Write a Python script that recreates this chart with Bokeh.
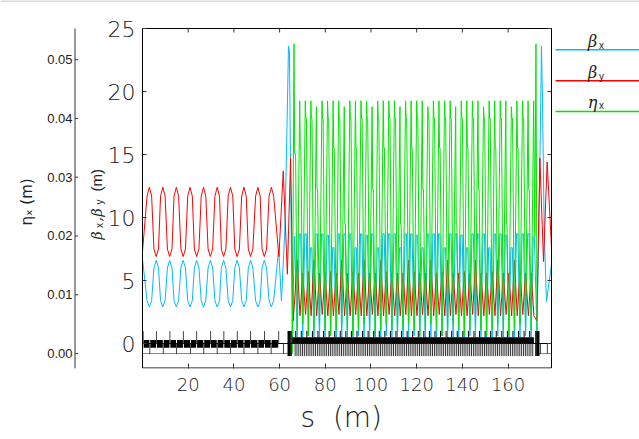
import math
from bokeh.plotting import figure
from bokeh.models import Range1d, LinearAxis, FixedTicker, Title
from bokeh.core.properties import value
from bokeh.embed import file_html
from bokeh.resources import INLINE

# ---------------- values ----------------
s_limits = [0.0, 179.0]
beta_limits = [-1.984, 25.0]
eta_limits = [-0.00255, 0.0553]
s_ticks = [20, 40, 60, 80, 100, 120, 140, 160]
beta_ticks = [0, 5, 10, 15, 20, 25]
beta_tick_labels = ["0", "5", "10", "15", "20", "25"]
eta_ticks = [0.0, 0.01, 0.02, 0.03, 0.04, 0.05]
eta_tick_labels = ["0.00", "0.01", "0.02", "0.03", "0.04", "0.05"]

# FODO section: extrema of the beta functions and their shoulders (1 m either side)
fodo_ext_s = [3.0, 6.0, 8.9, 11.9, 14.8, 17.8, 20.8, 23.7, 26.7, 29.7, 32.7, 35.5,
              38.5, 41.4, 44.4, 47.3, 50.5, 53.3, 56.4]
by_ext = [12.4, 6.9, 12.4, 6.9, 12.4, 6.9, 12.4, 6.9, 12.4, 6.9, 12.4, 6.9,
          12.4, 6.9, 12.4, 6.9, 12.4, 6.9, 12.4]
by_shoulder = [11.7, 7.5, 11.7, 7.5, 11.7, 7.5, 11.7, 7.5, 11.7, 7.5, 11.7, 7.5,
               11.7, 7.5, 11.7, 7.5, 11.7, 7.5, 11.7]
bx_ext = [2.9, 6.6, 2.9, 6.6, 2.9, 6.6, 2.9, 6.6, 2.9, 6.6, 2.9, 6.6,
          2.9, 6.6, 2.9, 6.6, 2.9, 6.6, 2.9]
bx_shoulder = [3.4, 6.0, 3.4, 6.0, 3.4, 6.0, 3.4, 6.0, 3.4, 6.0, 3.4, 6.0,
               3.4, 6.0, 3.4, 6.0, 3.4, 6.0, 3.4]
shoulder_ds = 1.0
bx_start, by_start = 6.7, 7.3

# entrance matching
bx_s_match = [59.6, 60.8, 62.3, 63.2, 63.9, 64.3, 65.5, 66.6]
bx_match = [7.5, 3.4, 9.0, 16.9, 23.6, 23.2, 1.0, 8.5]
by_s_match = [59.7, 61.6, 63.4, 64.8, 66.0]
by_match = [6.9, 13.7, 5.5, 14.7, 1.8]
eta_s_in = [0.0, 65.6, 66.3, 66.6, 67.0]
eta_in = [0.0, 0.0, 0.0527, 0.034, 0.034]

# dense arc: cell boundaries (m)
cell_s = [67.70, 70.14, 72.58, 75.01, 77.45, 79.89, 82.33, 84.77, 87.20, 89.64, 92.08,
          94.52, 96.96, 99.39, 101.83, 104.27, 106.71, 109.15, 111.58, 114.02, 116.46,
          118.90, 121.34, 123.77, 126.21, 128.65, 131.09, 133.53, 135.96, 138.40, 140.84,
          143.28, 145.72, 148.15, 150.59, 153.03, 155.47, 157.91, 160.34, 162.78, 165.22,
          167.66, 170.10]
bx_cell_min = [0.5, 0.4, 0.6, 0.5, 0.4, 0.5, 0.6,
               0.5, 0.4, 0.5, 0.5, 0.6, 0.4, 0.5,
               0.5, 0.4, 0.6, 0.5, 0.5, 0.4, 0.5,
               0.6, 0.5, 0.4, 0.5, 0.5, 0.6, 0.4,
               0.5, 0.5, 0.4, 0.6, 0.5, 0.5, 0.4,
               0.5, 0.6, 0.5, 0.4, 0.5, 0.5, 0.6,
               0.5]
bx_cell_max = [8.7, 8.7, 7.6, 8.7, 8.7, 8.6, 7.6,
               8.7, 8.7, 8.7, 7.6, 8.7, 8.6, 8.7,
               7.6, 8.7, 8.7, 8.7, 7.6, 8.7, 8.7,
               8.6, 7.6, 8.7, 8.7, 8.7, 7.6, 8.7,
               8.7, 8.6, 7.6, 8.7, 8.7, 8.7, 7.6,
               8.7, 8.7, 8.6, 7.6, 8.7, 8.7, 8.7]
by_cell_max = [6.6, 5.6, 5.7, 6.6, 5.6, 5.6, 5.7,
               5.6, 6.6, 5.6, 5.7, 5.6, 6.6, 5.6,
               5.6, 6.6, 5.7, 5.6, 5.6, 5.6, 6.6,
               5.7, 5.6, 5.6, 6.6, 5.6, 5.7, 6.6,
               5.6, 5.6, 5.7, 5.6, 6.6, 5.6, 5.6,
               5.7, 6.6, 5.6, 5.6, 6.6, 5.7, 5.6,
               5.6]
by_cell_min = [2.2, 2.3, 2.2, 2.2, 2.3, 2.2, 2.2,
               2.3, 2.2, 2.2, 2.3, 2.2, 2.2, 2.3,
               2.2, 2.2, 2.3, 2.2, 2.2, 2.3, 2.2,
               2.2, 2.3, 2.2, 2.2, 2.3, 2.2, 2.2,
               2.3, 2.2, 2.2, 2.3, 2.2, 2.2, 2.3,
               2.2, 2.2, 2.3, 2.2, 2.2, 2.3, 2.2]
eta_cell_low = [0.004, 0.005, 0.003, 0.004, 0.005, 0.004, 0.003,
                0.004, 0.005, 0.004, 0.003, 0.004, 0.005, 0.004,
                0.003, 0.004, 0.005, 0.004, 0.003, 0.004, 0.005,
                0.004, 0.003, 0.004, 0.005, 0.004, 0.003, 0.004,
                0.005, 0.004, 0.003, 0.004, 0.005, 0.004, 0.003,
                0.004, 0.005, 0.004, 0.003, 0.004, 0.005, 0.004,
                0.004]
eta_cell_peak = [0.043, 0.043, 0.043, 0.042, 0.043, 0.043, 0.043,
                 0.043, 0.042, 0.043, 0.043, 0.043, 0.043, 0.042,
                 0.043, 0.043, 0.043, 0.043, 0.042, 0.043, 0.043,
                 0.043, 0.043, 0.042, 0.043, 0.043, 0.043, 0.043,
                 0.042, 0.043, 0.043, 0.043, 0.043, 0.042, 0.043,
                 0.043, 0.043, 0.043, 0.042, 0.043, 0.043, 0.043]
eta_cell_shoulder = [0.035, 0.040, 0.040, 0.028, 0.040, 0.040, 0.035,
                     0.040, 0.022, 0.040, 0.035, 0.040, 0.040, 0.028,
                     0.040, 0.035, 0.040, 0.040, 0.022, 0.040, 0.035,
                     0.040, 0.028, 0.040, 0.040, 0.035, 0.040, 0.040,
                     0.022, 0.040, 0.035, 0.040, 0.028, 0.040, 0.040,
                     0.035, 0.040, 0.022, 0.040, 0.035, 0.040, 0.028]
bx_top_ds = [0.9, 1.5]
by_low_ds = [1.22]
eta_ds = [1.1, 1.35, 1.6]

# exit matching
bx_s_out = [171.0, 171.5, 172.6, 173.5, 174.2, 174.6, 175.0, 175.8, 176.8, 179.0]
bx_out = [8.5, 8.5, 1.0, 9.0, 18.0, 23.6, 20.0, 9.0, 3.3, 6.3]
by_s_out = [171.3, 172.6, 173.9, 175.5, 177.1, 179.0]
by_out = [2.2, 1.8, 14.7, 6.5, 14.4, 7.6]
eta_s_out = [171.2, 171.7, 172.2, 172.7, 179.0]
eta_out = [0.043, 0.020, 0.0527, 0.0, 0.0]

# magnet layout
qf_s = [0.3, 6.1, 12.0, 17.9, 23.7, 29.8, 35.6, 41.5, 47.3, 53.4, 59.6]
qd_s = [3.2, 9.1, 14.9, 21.0, 26.8, 32.7, 38.5, 44.4, 50.5, 56.3, 61.7, 174.2, 177.2]
bend_start = [0.5, 3.4, 6.3, 9.3, 12.2, 15.1, 18.1, 21.2, 23.9, 27.0, 30.0, 32.9, 35.8,
              38.7, 41.7, 44.6, 47.5, 50.7, 53.6, 56.5]
bend_end = [3.0, 5.9, 8.9, 11.8, 14.7, 17.7, 20.8, 23.5, 26.6, 29.6, 32.5, 35.4, 38.3,
            41.3, 44.2, 47.1, 50.3, 53.2, 56.1, 59.4]
long_q_s = [63.8, 64.4, 65.0, 172.2, 172.8, 173.4]
arc_band = [65.5, 171.3]
arc_up_ds = [-0.65]
arc_dn_ds = [-0.9, -0.1, 0.7]

# ---------------- assemble the curves ----------------
bx_s_all, bx_all = [0.0], [bx_start]
by_s_all, by_all = [0.0], [by_start]
for s, b1, b1s, b2, b2s in zip(fodo_ext_s, bx_ext, bx_shoulder, by_ext, by_shoulder):
    bx_s_all += [s - shoulder_ds, s, s + shoulder_ds]
    bx_all += [b1s, b1, b1s]
    by_s_all += [s - shoulder_ds, s, s + shoulder_ds]
    by_all += [b2s, b2, b2s]
bx_s_all += bx_s_match; bx_all += bx_match
by_s_all += by_s_match; by_all += by_match
eta_s_all, eta_all = list(eta_s_in), list(eta_in)
for k in range(len(cell_s) - 1):
    c = cell_s[k]
    bx_s_all += [c, c + bx_top_ds[0], c + bx_top_ds[1]]
    bx_all += [bx_cell_min[k], bx_cell_max[k], bx_cell_max[k]]
    by_s_all += [c, c + by_low_ds[0]]
    by_all += [by_cell_max[k], by_cell_min[k]]
    eta_s_all += [c, c + eta_ds[0], c + eta_ds[1], c + eta_ds[2]]
    eta_all += [eta_cell_low[k], eta_cell_peak[k], eta_cell_shoulder[k], eta_cell_shoulder[k]]
bx_s_all.append(cell_s[-1]); bx_all.append(bx_cell_min[-1])
by_s_all.append(cell_s[-1]); by_all.append(by_cell_max[-1])
eta_s_all.append(cell_s[-1]); eta_all.append(eta_cell_low[-1])
bx_s_all += bx_s_out; bx_all += bx_out
by_s_all += by_s_out; by_all += by_out
eta_s_all += eta_s_out; eta_all += eta_out

# ---------------- page layout (pixels) ----------------
W, H = 639, 439
box_left_px, box_right_px, box_top_px, box_bottom_px = 142.0, 551.0, 28.0, 368.0
px_per_m = (box_right_px - box_left_px) / (s_limits[1] - s_limits[0])
px_per_beta = (box_bottom_px - box_top_px) / (beta_limits[1] - beta_limits[0])
px_per_eta = (box_bottom_px - box_top_px) / (eta_limits[1] - eta_limits[0])

x_lo = s_limits[0] - box_left_px / px_per_m
x_hi = s_limits[1] + (W - box_right_px) / px_per_m
y_hi = beta_limits[1] + box_top_px / px_per_beta
eta_hi = eta_limits[1] + box_top_px / px_per_eta


def px2s(px):
    return s_limits[0] + (px - box_left_px) / px_per_m


def py2b(py):
    return beta_limits[0] + (box_bottom_px - py) / px_per_beta


p = figure(width=W, height=H, x_range=Range1d(x_lo, x_hi),
           y_range=Range1d(beta_limits[0], y_hi),
           x_axis_location=None, y_axis_location=None,
           toolbar_location=None, output_backend="svg",
           min_border_left=0, min_border_right=0, min_border_top=0, min_border_bottom=71)
p.outline_line_color = None
p.grid.visible = False
p.background_fill_color = "white"
p.border_fill_color = "white"
p.extra_y_ranges = {"eta": Range1d(eta_limits[0], eta_hi)}

AX = "#333333"
LIGHT_NAME = "DejaVu Sans ExtraLight, DejaVu Sans Light, DejaVu Sans"
LIGHT = value(LIGHT_NAME)
SMALL = value("Liberation Sans")
x_axis = LinearAxis(ticker=FixedTicker(ticks=s_ticks),
                    major_tick_in=5, major_tick_out=0, minor_tick_line_color=None,
                    axis_line_color=None, major_tick_line_color=AX,
                    major_label_text_font=LIGHT_NAME,
                    major_label_text_font_size="18px",
                    major_label_text_color="#1a1a1a", major_label_standoff=9)
p.add_layout(x_axis, "below")
p.add_layout(Title(text="s\u00a0\u00a0(m)", align="left", offset=300, standoff=10,
                   text_font=LIGHT_NAME, text_font_size="28px",
                   text_font_style="normal", text_color="#1a1a1a"), "below")

# top grey rule of the page
p.segment(x0=[x_lo], y0=[py2b(0.5)], x1=[x_hi], y1=[py2b(0.5)], line_color="#b4b4b4", line_width=1)

# curves
CYAN, RED, GREEN = "#00bbff", "#ff0000", "#00e600"
p.line(bx_s_all, bx_all, line_color=CYAN, line_width=1)
p.line(by_s_all, by_all, line_color=RED, line_width=1)
p.line(eta_s_all, eta_all, line_color=GREEN, line_width=1, y_range_name="eta")

# magnets
p.segment(x0=[s_limits[0]], y0=[0], x1=[s_limits[1]], y1=[0], line_color="black", line_width=1)
p.quad(left=bend_start, right=bend_end, bottom=-0.33, top=0.27, fill_color="black", line_color=None)
p.segment(x0=qf_s, y0=0, x1=qf_s, y1=0.98, line_color="#444444", line_width=1)
p.segment(x0=qd_s, y0=0, x1=qd_s, y1=-0.85, line_color="#444444", line_width=1)
p.segment(x0=long_q_s, y0=-1.0, x1=long_q_s, y1=1.0, line_color="black", line_width=1.5)
p.quad(left=[arc_band[0]], right=[arc_band[1]], bottom=0.0, top=0.5, fill_color="black", line_color=None)
arc_up = [c + d for c in cell_s for d in arc_up_ds]
arc_dn = [c + d for c in cell_s for d in arc_dn_ds]
p.segment(x0=arc_up, y0=0.5, x1=arc_up, y1=1.0, line_color="black", line_width=1)
p.segment(x0=arc_dn, y0=0, x1=arc_dn, y1=-1.0, line_color="#333333", line_width=1)

# frame box and its inward ticks
inset = 0.5 / px_per_beta
p.quad(left=[s_limits[0]], right=[s_limits[1]], bottom=[beta_limits[0] + inset],
       top=[beta_limits[1]], fill_color=None, line_color="black", line_width=1)
tick_len_s = 4.0 / px_per_m
tick_len_b = 4.0 / px_per_beta
p.segment(x0=s_limits[0], y0=beta_ticks, x1=s_limits[0] + tick_len_s, y1=beta_ticks,
          line_color=AX, line_width=1)
p.segment(x0=s_limits[1], y0=beta_ticks, x1=s_limits[1] - tick_len_s, y1=beta_ticks,
          line_color=AX, line_width=1)
p.segment(x0=s_ticks, y0=beta_limits[1], x1=s_ticks, y1=beta_limits[1] - tick_len_b,
          line_color=AX, line_width=1)

# beta tick labels (sit on their tick)
p.text(x=[px2s(135)] * len(beta_ticks), y=beta_ticks, text=beta_tick_labels,
       text_align="right", text_baseline="alphabetic", text_font=LIGHT,
       text_font_size="22px", text_color="#1a1a1a")

# eta axis (separate, further left)
eta_axis_s = px2s(74.5)
p.segment(x0=[eta_axis_s], y0=[eta_limits[0]], x1=[eta_axis_s], y1=[eta_limits[1]],
          line_color=AX, line_width=1, y_range_name="eta")
p.segment(x0=eta_axis_s, y0=eta_ticks, x1=eta_axis_s + 3.0 / px_per_m, y1=eta_ticks,
          line_color=AX, line_width=1, y_range_name="eta")
p.text(x=[px2s(72)] * len(eta_ticks), y=eta_ticks, text=eta_tick_labels,
       text_align="right", text_baseline="alphabetic", text_font=SMALL,
       text_font_size="13px", text_color="#222222", y_range_name="eta")
p.text(x=[px2s(26)], y=[py2b(201.5)], text=["ηₓ (m)"], angle=math.pi / 2,
       text_align="center", text_baseline="middle", text_font=value("DejaVu Sans"),
       text_font_size="15px", text_color="#222222")

# beta axis title, composed (rotated)
p.text(x=[px2s(96)] * 3, y=[py2b(239), py2b(221), py2b(216)],
       text=["β", ",", "β"], angle=math.pi / 2,
       text_font=value("DejaVu Serif"), text_font_style="italic",
       text_font_size="14px", text_align="left", text_baseline="alphabetic",
       text_color="#222222")
p.text(x=[px2s(99)] * 2, y=[py2b(227.5), py2b(204)], text=["x", "y"], angle=math.pi / 2,
       text_font=SMALL, text_font_size="10px", text_align="left",
       text_baseline="alphabetic", text_color="#222222")
p.text(x=[px2s(96)], y=[py2b(191)], text=["(m)"], angle=math.pi / 2,
       text_font=SMALL, text_font_size="15px", text_align="left",
       text_baseline="alphabetic", text_color="#222222")

# legend (right of the frame box)
leg_y = [py2b(49.2), py2b(80.3), py2b(111.0)]
p.segment(x0=px2s(555), y0=leg_y, x1=px2s(W), y1=leg_y,
          line_color=[CYAN, RED, GREEN], line_width=1.6)
p.text(x=[px2s(592)] * 3, y=[py2b(41), py2b(72), py2b(101.5)], text=["β", "β", "η"],
       text_font=value("DejaVu Serif"), text_font_style="italic", text_font_size="16px",
       text_align="center", text_baseline="alphabetic", text_color="#222222")
p.text(x=[px2s(598.5)] * 3, y=[py2b(45), py2b(75.5), py2b(105)], text=["x", "y", "x"],
       text_font=SMALL, text_font_size="10px",
       text_align="left", text_baseline="alphabetic", text_color="#222222")

open("out.html", "w").write(file_html(p, INLINE))
